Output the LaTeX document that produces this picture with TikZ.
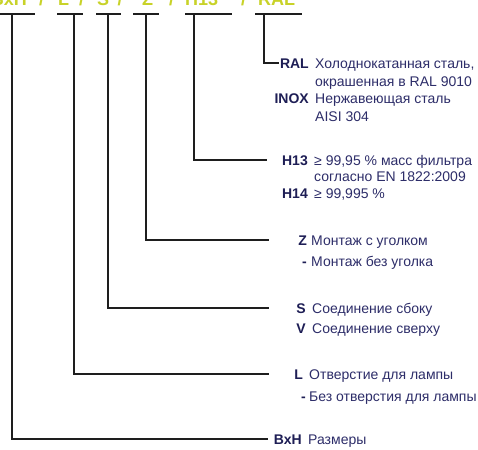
\documentclass[tikz,border=0pt]{standalone}
\usepackage{fontspec}
\setmainfont{Liberation Sans}
\definecolor{codec}{RGB}{200,210,40}
\definecolor{keyc}{RGB}{30,30,85}
\definecolor{descc}{RGB}{45,45,105}
\definecolor{leadc}{RGB}{30,30,30}
\tikzset{
  leader/.style={draw=leadc, line width=1.2pt},
  codepart/.style={font=\fontsize{18}{20}\selectfont\bfseries, text=codec, inner sep=0pt},
  keylbl/.style={font=\fontsize{14}{16}\selectfont\bfseries, text=keyc, inner sep=0pt, anchor=base east},
  desclbl/.style={font=\fontsize{14}{16}\selectfont, text=descc, inner sep=0pt, anchor=base west},
}

\begin{document}
\begin{tikzpicture}[x=1pt, y=-1pt]
  \useasboundingbox (0,0) rectangle (478,449);
  \fill[white] (0,0) rectangle (478,449);
  \clip (0,0) rectangle (478,449);

  % type code, cut by the top edge
  \node[codepart, anchor=base east] (c-bxh) at (27,6) {BxH};
  \foreach \n/\t/\x in {l/L/58, s/S/97, z/Z/142, h13/H13/185, ral/RAL/258}
    \node[codepart, anchor=base west] (c-\n) at (\x,6) {\t};
  \foreach \x [count=\i] in {41.5,81.5,120,171.5,243.5}
    \node[codepart, anchor=base] (sl-\i) at (\x,6) {/};

  % brackets and leaders
  \foreach \n/\vx/\bl/\br/\ex/\ey in {bxh/12/-10/35/268/439, l/74/57/83/269/374,
      s/108/96/121/269/308, z/146/133/159/269/240, h13/194/185/232/267/160,
      ral/264/255/302/279/63} {
    \coordinate (b-\n) at (\vx,14);
    \coordinate (e-\n) at (\ex,\ey);
    \draw[leader] (\bl,14) -- (\br,14);
    \draw[leader] (b-\n) |- (e-\n);
  }

  % RAL / INOX
  \node[keylbl] (k-ral) at (309,69) {RAL};
  \node[desclbl] (d-ral1) at (315,69) {Холоднокатанная сталь,};
  \node[desclbl] (d-ral2) at (315,86.5) {окрашенная в RAL 9010};
  \node[keylbl] (k-inox) at (309,104) {INOX};
  \node[desclbl] (d-inox1) at (315,104) {Нержавеющая сталь};
  \node[desclbl] (d-inox2) at (315,121.5) {AISI 304};

  % H13 / H14
  \node[keylbl] (k-h13) at (308,165) {H13};
  \node[desclbl] (d-h131) at (314,165) {≥ 99,95 \% масс фильтра};
  \node[desclbl] (d-h132) at (314,181.5) {согласно EN 1822:2009};
  \node[keylbl] (k-h14) at (308,198) {H14};
  \node[desclbl] (d-h14) at (314,198) {≥ 99,995 \%};

  % Z / -
  \node[keylbl] (k-z) at (307,245) {Z};
  \node[desclbl] (d-z) at (311,245) {Монтаж с уголком};
  \node[keylbl] (k-noz) at (307,266) {-};
  \node[desclbl] (d-noz) at (311,266) {Монтаж без уголка};

  % S / V
  \node[keylbl] (k-s) at (306,313) {S};
  \node[desclbl] (d-s) at (312,313) {Соединение сбоку};
  \node[keylbl] (k-v) at (306,333) {V};
  \node[desclbl] (d-v) at (312,333) {Соединение сверху};

  % L / -
  \node[keylbl] (k-l) at (303,379) {L};
  \node[desclbl] (d-l) at (309,379) {Отверстие для лампы};
  \node[keylbl] (k-nol) at (306,401) {-};
  \node[desclbl] (d-nol) at (309,401) {Без отверстия для лампы};

  % BxH
  \node[keylbl] (k-bxh) at (302,444) {BxH};
  \node[desclbl] (d-bxh) at (308,444) {Размеры};
\end{tikzpicture}
\end{document}
